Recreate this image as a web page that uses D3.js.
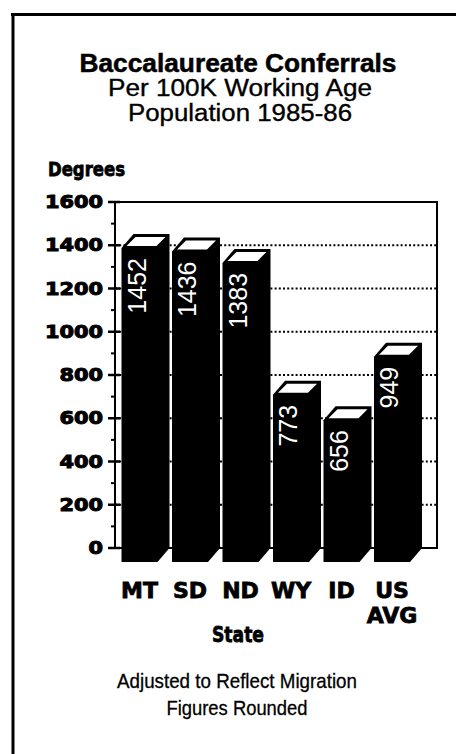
<!DOCTYPE html>
<html>
<head>
<meta charset="utf-8">
<script src="https://cdn.jsdelivr.net/npm/d3@7"></script>
<style>
  html, body { margin: 0; padding: 0; background: #fff; }
  svg { display: block; }
</style>
</head>
<body>
<svg id="chart" width="456" height="754"></svg>
<script>
// ---- data ----
const states = ["MT", "SD", "ND", "WY", "ID", "US AVG"];
const degrees = [1452, 1436, 1383, 773, 656, 949];
const yTicks = [0, 200, 400, 600, 800, 1000, 1200, 1400, 1600];
const yMinorTicks = [100, 300, 500, 700, 900, 1100, 1300, 1500];
const gridValues = [200, 400, 600, 800, 1000, 1200, 1400];
const titleText = "Baccalaureate Conferrals";
const subtitleLines = ["Per 100K Working Age", "Population 1985-86"];
const yAxisTitle = "Degrees";
const xAxisTitle = "State";
const noteLines = ["Adjusted to Reflect Migration", "Figures Rounded"];

// ---- layout ----
const svg = d3.select("#chart");
const plotLeft = 115, plotRight = 437, plotTop = 202, plotBottom = 548;
const depthX = 12, depthY = 14;
const frontW = 36;

const y = d3.scaleLinear().domain([0, 1600]).range([plotBottom, plotTop]);
const x = d3.scaleBand().domain(states).range([121.5, 424.5]).paddingInner(0).paddingOuter(0);

const heavy = "'DejaVu Sans', 'Liberation Sans', sans-serif";
const helv = "'Liberation Sans', Arial, sans-serif";
const narrow = "'Liberation Sans Narrow', 'Liberation Sans', Arial, sans-serif";

// outer frame
svg.append("line").attr("x1", 11).attr("x2", 456).attr("y1", 14.5).attr("y2", 14.5)
  .attr("stroke", "#000").attr("stroke-width", 3);
svg.append("line").attr("x1", 13).attr("x2", 13).attr("y1", 13).attr("y2", 754)
  .attr("stroke", "#000").attr("stroke-width", 3);

// titles
svg.append("text").attr("x", 238).attr("y", 72).attr("text-anchor", "middle")
  .attr("font-family", helv).attr("font-weight", "bold").attr("font-size", 25)
  .attr("textLength", 317).attr("lengthAdjust", "spacingAndGlyphs")
  .attr("stroke", "#000").attr("stroke-width", 0.5)
  .text(titleText);
const subWidths = [264, 224];
svg.selectAll("text.sub").data(subtitleLines).join("text").attr("class", "sub")
  .attr("x", 240).attr("y", (d, i) => 96 + i * 25).attr("text-anchor", "middle")
  .attr("font-family", helv).attr("font-size", 23)
  .attr("textLength", (d, i) => subWidths[i]).attr("lengthAdjust", "spacingAndGlyphs")
  .attr("stroke", "#000").attr("stroke-width", 0.35)
  .text(d => d);

// y axis title
svg.append("text").attr("x", 48).attr("y", 176)
  .attr("font-family", heavy).attr("font-weight", "bold").attr("font-size", 19)
  .attr("textLength", 77).attr("lengthAdjust", "spacingAndGlyphs")
  .attr("stroke", "#000").attr("stroke-width", 0.8)
  .text(yAxisTitle);

// gridlines (dotted)
svg.append("g").selectAll("line").data(gridValues).join("line")
  .attr("x1", plotLeft).attr("x2", plotRight)
  .attr("y1", d => y(d)).attr("y2", d => y(d))
  .attr("stroke", "#000").attr("stroke-width", 2)
  .attr("stroke-dasharray", "2,2.2");

// plot box
svg.append("path")
  .attr("d", `M${plotLeft},${plotTop}H${plotRight}V${plotBottom}H${plotLeft}`)
  .attr("fill", "none").attr("stroke", "#000").attr("stroke-width", 2);

// bars
const bars = svg.append("g").selectAll("g").data(states).join("g");
bars.each(function (s, i) {
  const g = d3.select(this);
  const fx = x(s);
  const ftop = y(degrees[i]) + depthY;
  const fbot = y(0) + depthY;
  // silhouette (front + side) black
  g.append("path")
    .attr("d", `M${fx},${ftop}L${fx + depthX},${ftop - depthY}L${fx + frontW + depthX},${ftop - depthY}` +
      `L${fx + frontW + depthX},${fbot - depthY}L${fx + frontW},${fbot}L${fx},${fbot}Z`)
    .attr("fill", "#000");
  // top face (white inset)
  g.append("path")
    .attr("d", `M${fx + 5},${ftop - 2}L${fx + 14},${ftop - 11}L${fx + 44},${ftop - 11}L${fx + 35},${ftop - 2}Z`)
    .attr("fill", "#fff");
  // value label
  g.append("text")
    .attr("transform", `translate(${fx + 24},${ftop + 10}) rotate(-90)`)
    .attr("text-anchor", "end")
    .attr("font-family", helv).attr("font-size", 25).attr("fill", "#fff")
    .text(degrees[i]);
});

// y axis
const axisG = svg.append("g");
axisG.append("line").attr("x1", plotLeft).attr("x2", plotLeft)
  .attr("y1", plotTop).attr("y2", plotBottom).attr("stroke", "#000").attr("stroke-width", 2);
axisG.selectAll("line.maj").data(yTicks).join("line").attr("class", "maj")
  .attr("x1", plotLeft - 7).attr("x2", plotLeft + 5)
  .attr("y1", d => y(d)).attr("y2", d => y(d))
  .attr("stroke", "#000").attr("stroke-width", 2.5);
axisG.selectAll("line.min").data(yMinorTicks).join("line").attr("class", "min")
  .attr("x1", plotLeft - 4).attr("x2", plotLeft)
  .attr("y1", d => y(d)).attr("y2", d => y(d))
  .attr("stroke", "#000").attr("stroke-width", 2);
axisG.selectAll("text").data(yTicks).join("text")
  .attr("x", 103).attr("y", d => y(d)).attr("dy", "0.36em")
  .attr("text-anchor", "end")
  .attr("font-family", heavy).attr("font-weight", "bold").attr("font-size", 17)
  .attr("textLength", d => String(d).length * 14.5).attr("lengthAdjust", "spacingAndGlyphs")
  .attr("stroke", "#000").attr("stroke-width", 1)
  .text(d => d);

// category labels
const cat = svg.append("g").selectAll("text").data(states).join("text")
  .attr("x", d => x(d) + frontW / 2).attr("y", 598)
  .attr("text-anchor", "middle")
  .attr("font-family", heavy).attr("font-weight", "bold").attr("font-size", 22)
  .attr("stroke", "#000").attr("stroke-width", 0.8);
cat.each(function (d) {
  const parts = d.split(" ");
  d3.select(this).selectAll("tspan").data(parts).join("tspan")
    .attr("x", x(d) + frontW / 2).attr("dy", (p, j) => j === 0 ? 0 : 25)
    .text(p => p);
});

// x axis title
svg.append("text").attr("x", 238).attr("y", 642).attr("text-anchor", "middle")
  .attr("font-family", heavy).attr("font-weight", "bold").attr("font-size", 22)
  .attr("textLength", 52).attr("lengthAdjust", "spacingAndGlyphs")
  .attr("stroke", "#000").attr("stroke-width", 0.8)
  .text(xAxisTitle);

// notes
const noteWidths = [240, 141];
svg.selectAll("text.note").data(noteLines).join("text").attr("class", "note")
  .attr("x", 237).attr("y", (d, i) => 688 + i * 27).attr("text-anchor", "middle")
  .attr("font-family", narrow).attr("font-size", 21)
  .attr("textLength", (d, i) => noteWidths[i]).attr("lengthAdjust", "spacingAndGlyphs")
  .attr("stroke", "#000").attr("stroke-width", 0.3)
  .text(d => d);
</script>
</body>
</html>
